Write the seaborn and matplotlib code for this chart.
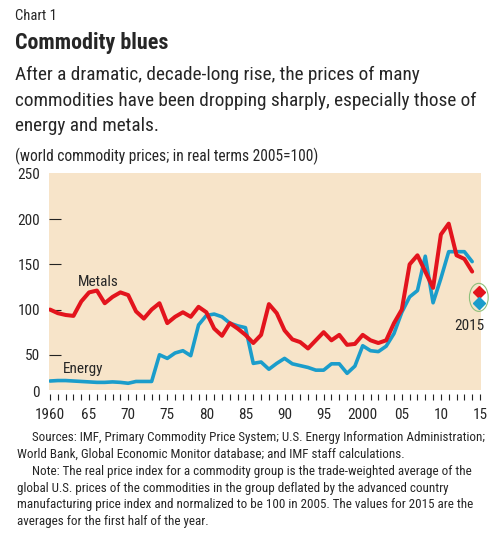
import matplotlib
matplotlib.use('Agg')
import numpy as np
import pandas as pd
import seaborn as sns
import matplotlib.pyplot as plt
from matplotlib import font_manager
from matplotlib.patches import Ellipse

years = list(range(1960, 2015))
metals = [100, 96, 94, 93, 109, 119, 121, 107, 114, 119,
          116, 98, 90, 100, 107, 85, 92, 97, 92, 103,
          97, 79, 71, 85, 79, 72, 63, 72, 106, 96,
          77, 67, 64, 57, 66, 75, 66, 72, 61, 62,
          72, 66, 63, 66, 85, 100, 150, 160, 142, 124,
          183, 195, 160, 156, 142]
energy = [21, 21.5, 21.5, 21, 20.5, 20, 19.5, 19.5, 20, 19.5,
          18.5, 20.5, 20.5, 20.5, 50, 46, 52, 54.5, 49, 83,
          93.5, 95, 92, 85, 82, 80, 40.5, 42, 34, 40.5,
          46, 40, 38, 36, 33, 33, 40, 40, 29.5, 37.5,
          60, 54.5, 53.5, 59.5, 73.5, 97, 114, 121, 159, 107.5,
          134.5, 164, 164, 164, 153]
year_2015 = 2015
metals_2015 = 119.5
energy_2015 = 107.5

y_ticks = [0, 50, 100, 150, 200, 250]
x_labels = {1960: '1960', 1965: '65', 1970: '70', 1975: '75', 1980: '80',
            1985: '85', 1990: '90', 1995: '95', 2000: '2000', 2005: '05',
            2010: '10', 2015: '15'}

RED = '#e3141d'
BLUE = '#1b9dcb'
BEIGE = '#f7e4c9'


def pick_font(names):
    have = {f.name for f in font_manager.fontManager.ttflist}
    for n in names:
        if n in have:
            return n
    return 'DejaVu Sans'


sns.set_style('white')
narrow = pick_font(['Liberation Sans Narrow', 'DejaVu Sans Condensed', 'Roboto Condensed', 'Liberation Sans'])
plt.rcParams['font.family'] = [narrow, 'DejaVu Sans']

df = pd.DataFrame({'year': years, 'Metals': metals, 'Energy': energy})

W, H = 500, 535
fig = plt.figure(figsize=(W / 100, H / 100), dpi=100)
ax = fig.add_axes([49 / W, (H - 400) / H, 432 / W, 227 / H])
ax.set_facecolor('white')
ax.axhspan(11, 251, color=BEIGE, zorder=0, lw=0)

sns.lineplot(data=df, x='year', y='Energy', color=BLUE, lw=2.6, ax=ax, zorder=3)
sns.lineplot(data=df, x='year', y='Metals', color=RED, lw=2.9, ax=ax, zorder=4)
ax.plot([year_2015 - 0.15], [metals_2015], marker='D', ms=6, color=RED, ls='none', zorder=5, clip_on=False)
ax.plot([year_2015 - 0.15], [energy_2015], marker='D', ms=6, color=BLUE, ls='none', zorder=5, clip_on=False)
ax.add_patch(Ellipse((year_2015 - 0.15, (metals_2015 + energy_2015) / 2), 2.4, 31,
                     fill=False, ec='#8dc07a', lw=0.8, clip_on=False, zorder=6))
ax.text(2013.6, 82, '2015', fontsize=11, ha='center', va='center')
ax.text(1963.6, 131, 'Metals', fontsize=11, ha='left', va='center')
ax.text(1961.6, 34, 'Energy', fontsize=11, ha='left', va='center')

ax.set_xlim(1959.87, 2015.13)
ax.set_ylim(0, 251)
for s in ax.spines.values():
    s.set_visible(False)

ax.set_xticks(range(1960, 2016))
ax.set_xticklabels([x_labels.get(y, '') for y in range(1960, 2016)])
ax.set_yticks(y_ticks)
ax.set_yticklabels([str(v) for v in y_ticks])
ax.tick_params(axis='x', direction='in', length=4, width=0.8, color='#222222',
               labelsize=11, pad=6, bottom=True)
ax.tick_params(axis='y', direction='in', length=8.5, width=0.8, color='#222222',
               labelsize=11, pad=6.5, left=True)
yt = ax.yaxis.get_major_ticks()
yt[0].tick1line.set_visible(False)
yt[-1].tick1line.set_visible(False)
yt[0].label1.set_va('bottom')
ax.set_xlabel('')
ax.set_ylabel('')

# header and notes
fig.text(15 / W, 1 - 16 / H, 'Chart 1', fontsize=10.5, va='center', ha='left')
fig.text(15 / W, 1 - 43 / H, 'Commodity blues', fontsize=15.8, fontweight='bold', va='center', ha='left')
sub = ['After a dramatic, decade-long rise, the prices of many',
       'commodities have been dropping sharply, especially those of',
       'energy and metals.']
for i, line in enumerate(sub):
    fig.text(15 / W, 1 - (75 + 25.5 * i) / H, line, fontsize=13.85, va='center', ha='left')
fig.text(15 / W, 1 - 156 / H, '(world commodity prices; in real terms 2005=100)',
         fontsize=11.2, va='center', ha='left')

notes = [(32, 'Sources: IMF, Primary Commodity Price System; U.S. Energy Information Administration;'),
         (17, 'World Bank, Global Economic Monitor database; and IMF staff calculations.'),
         (32, 'Note: The real price index for a commodity group is the trade-weighted average of the'),
         (17, 'global U.S. prices of the commodities in the group deflated by the advanced country'),
         (17, 'manufacturing price index and normalized to be 100 in 2005. The values for 2015 are the'),
         (17, 'averages for the first half of the year.')]
for i, (x, line) in enumerate(notes):
    fig.text(x / W, 1 - (438 + 16.7 * i) / H, line, fontsize=9.4, va='center', ha='left')

fig.savefig('out.png', dpi=100)
